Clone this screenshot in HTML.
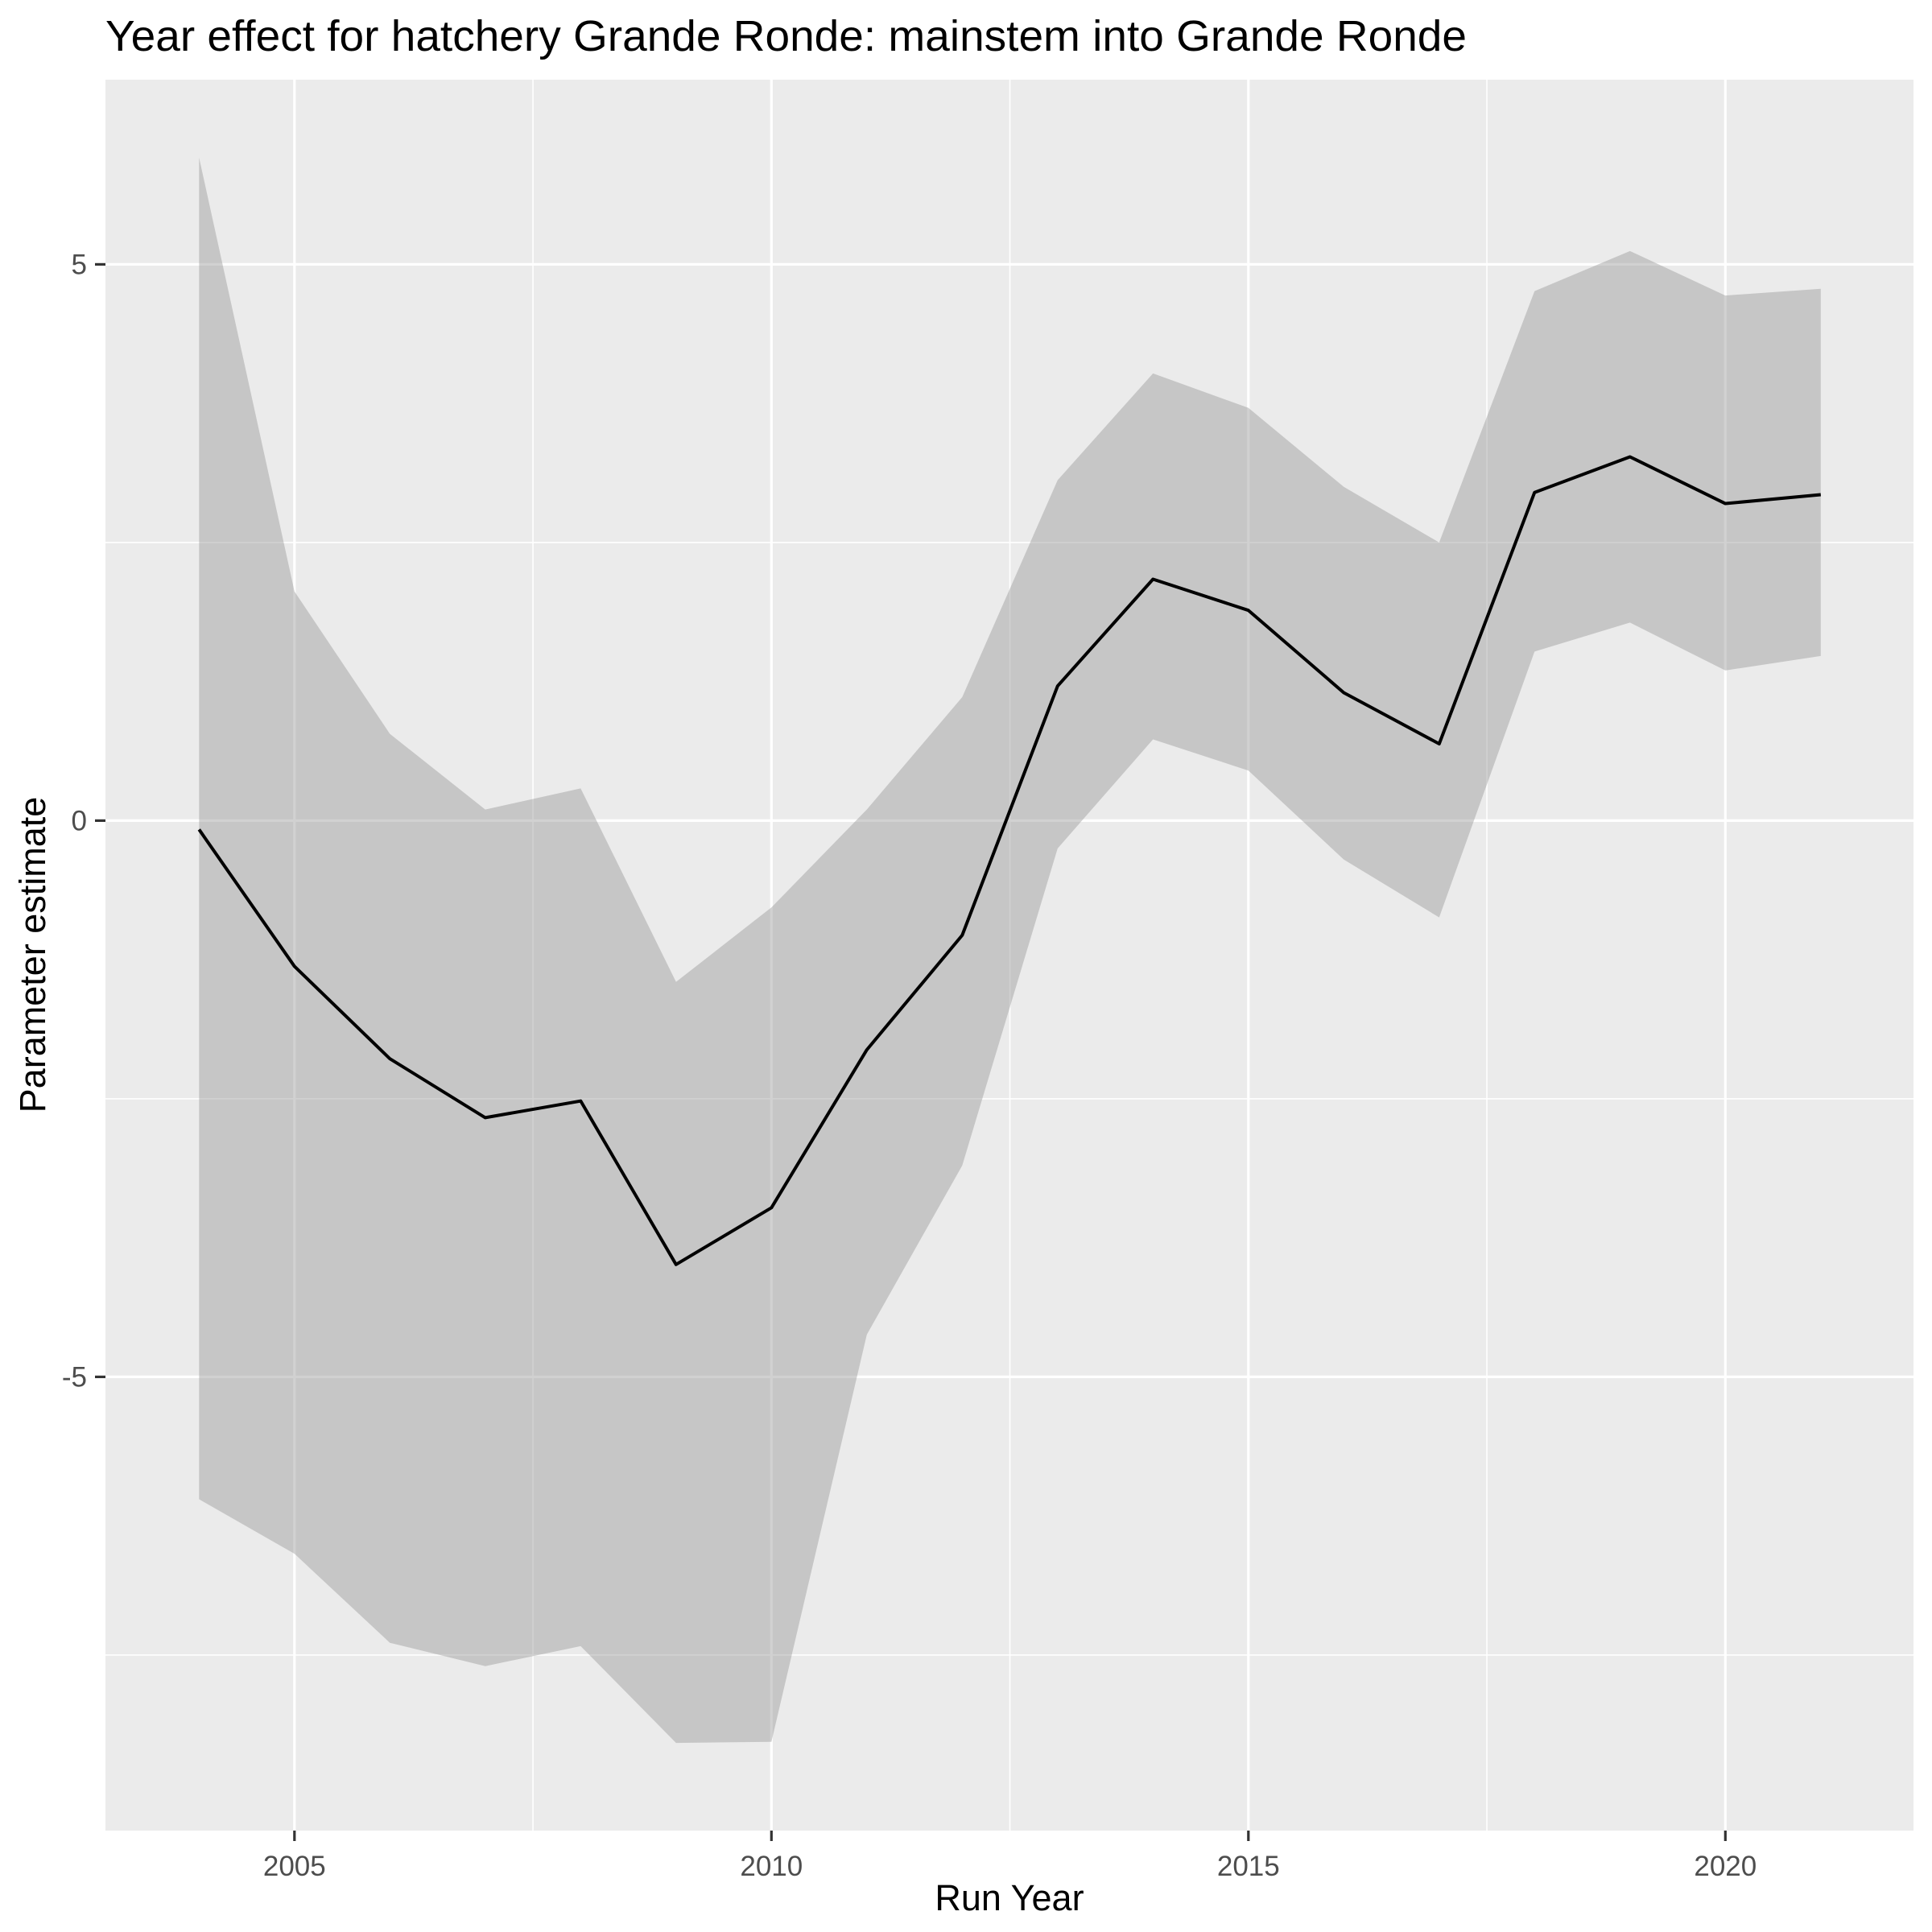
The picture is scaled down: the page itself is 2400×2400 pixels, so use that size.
<!DOCTYPE html>
<html><head><meta charset="utf-8"><style>
html,body{margin:0;padding:0;background:#fff;}
svg{display:block;font-family:"Liberation Sans",Arial,sans-serif;}
</style></head><body>
<svg id="chart" width="2400" height="2400" xmlns="http://www.w3.org/2000/svg">
<rect x="0" y="0" width="2400" height="2400" fill="#fff"/>
<text x="131" y="63" font-size="54" fill="#000" textLength="1691" lengthAdjust="spacingAndGlyphs">Year effect for hatchery Grande Ronde: mainstem into Grande Ronde</text>
<rect x="131" y="99" width="2246" height="2175" fill="#ebebeb"/>
<g id="grid"></g>
<g id="marks"></g>
<g id="axes"></g>
<text x="1254" y="2373" font-size="45" text-anchor="middle" fill="#000">Run Year</text>
<text transform="translate(56,1186) rotate(-90)" font-size="45" text-anchor="middle" fill="#000">Parameter estimate</text>
</svg>
<script>
const years = [2004,2005,2006,2007,2008,2009,2010,2011,2012,2013,2014,2015,2016,2017,2018,2019,2020,2021];
const estimate = [-0.08,-1.31,-2.14,-2.67,-2.52,-3.99,-3.48,-2.06,-1.03,1.21,2.17,1.89,1.15,0.69,2.95,3.27,2.85,2.93];
const upper = [5.96,2.06,0.78,0.10,0.29,-1.45,-0.78,0.10,1.11,3.06,4.02,3.71,3.00,2.50,4.76,5.12,4.72,4.78];
const lower = [-6.10,-6.59,-7.39,-7.60,-7.42,-8.29,-8.28,-4.62,-3.10,-0.25,0.73,0.45,-0.35,-0.87,1.52,1.78,1.35,1.48];
const xTicks = [2005,2010,2015,2020];
const xMinor = [2002.5,2007.5,2012.5,2017.5];
const yTicks = [-5,0,5];
const yMinor = [-7.5,-2.5,2.5];

const PL=131, PR=2377, PT=99, PB=2274;
function xs(v){return 365.8 + (v-2005)*118.5;}
function ys(v){return 1019.4 - v*138.2;}
const NS='http://www.w3.org/2000/svg';
function mk(tag, attrs, parent){const e=document.createElementNS(NS,tag);for(const k in attrs)e.setAttribute(k,attrs[k]);parent.appendChild(e);return e;}
const grid=document.getElementById('grid'), marks=document.getElementById('marks'), axes=document.getElementById('axes');

yMinor.forEach(v=>{const y=ys(v);if(y<PT||y>PB)return;
  const l=mk('line',{x1:PL,x2:PR,y1:y,y2:y,stroke:'#fff','stroke-width':1.6},grid);
  
  });
xMinor.forEach(v=>{const x=xs(v);if(x<PL||x>PR)return;
  const l=mk('line',{x1:x,x2:x,y1:PT,y2:PB,stroke:'#fff','stroke-width':1.6},grid);
  
  });
yTicks.forEach(v=>{const y=ys(v);
  const l=mk('line',{x1:PL,x2:PR,y1:y,y2:y,stroke:'#fff','stroke-width':3.2},grid);
  
  
  const t=mk('line',{x1:PL-13,x2:PL,y1:y,y2:y,stroke:'#333','stroke-width':3.2},axes);
  
  
  const tx=mk('text',{x:108,y:y+12,'font-size':35,'text-anchor':'end',fill:'#4d4d4d'},axes);
  tx.textContent=String(v);
  
  });
xTicks.forEach(v=>{const x=xs(v);
  const l=mk('line',{x1:x,x2:x,y1:PT,y2:PB,stroke:'#fff','stroke-width':3.2},grid);
  
  
  const t=mk('line',{x1:x,x2:x,y1:PB,y2:PB+13,stroke:'#333','stroke-width':3.2},axes);
  
  
  const tx=mk('text',{x:x,y:2330,'font-size':35,'text-anchor':'middle',fill:'#4d4d4d'},axes);
  tx.textContent=v;
  
  });

let pts=years.map((yr,i)=>xs(yr)+','+ys(upper[i]));
for(let i=years.length-1;i>=0;i--)pts.push(xs(years[i])+','+ys(lower[i]));
const band=mk('polygon',{points:pts.join(' '),fill:'#999','fill-opacity':0.45},marks);


const line=mk('polyline',{points:years.map((yr,i)=>xs(yr)+','+ys(estimate[i])).join(' '),fill:'none',stroke:'#000','stroke-width':4,'stroke-linejoin':'round'},marks);


</script>
</body></html>
